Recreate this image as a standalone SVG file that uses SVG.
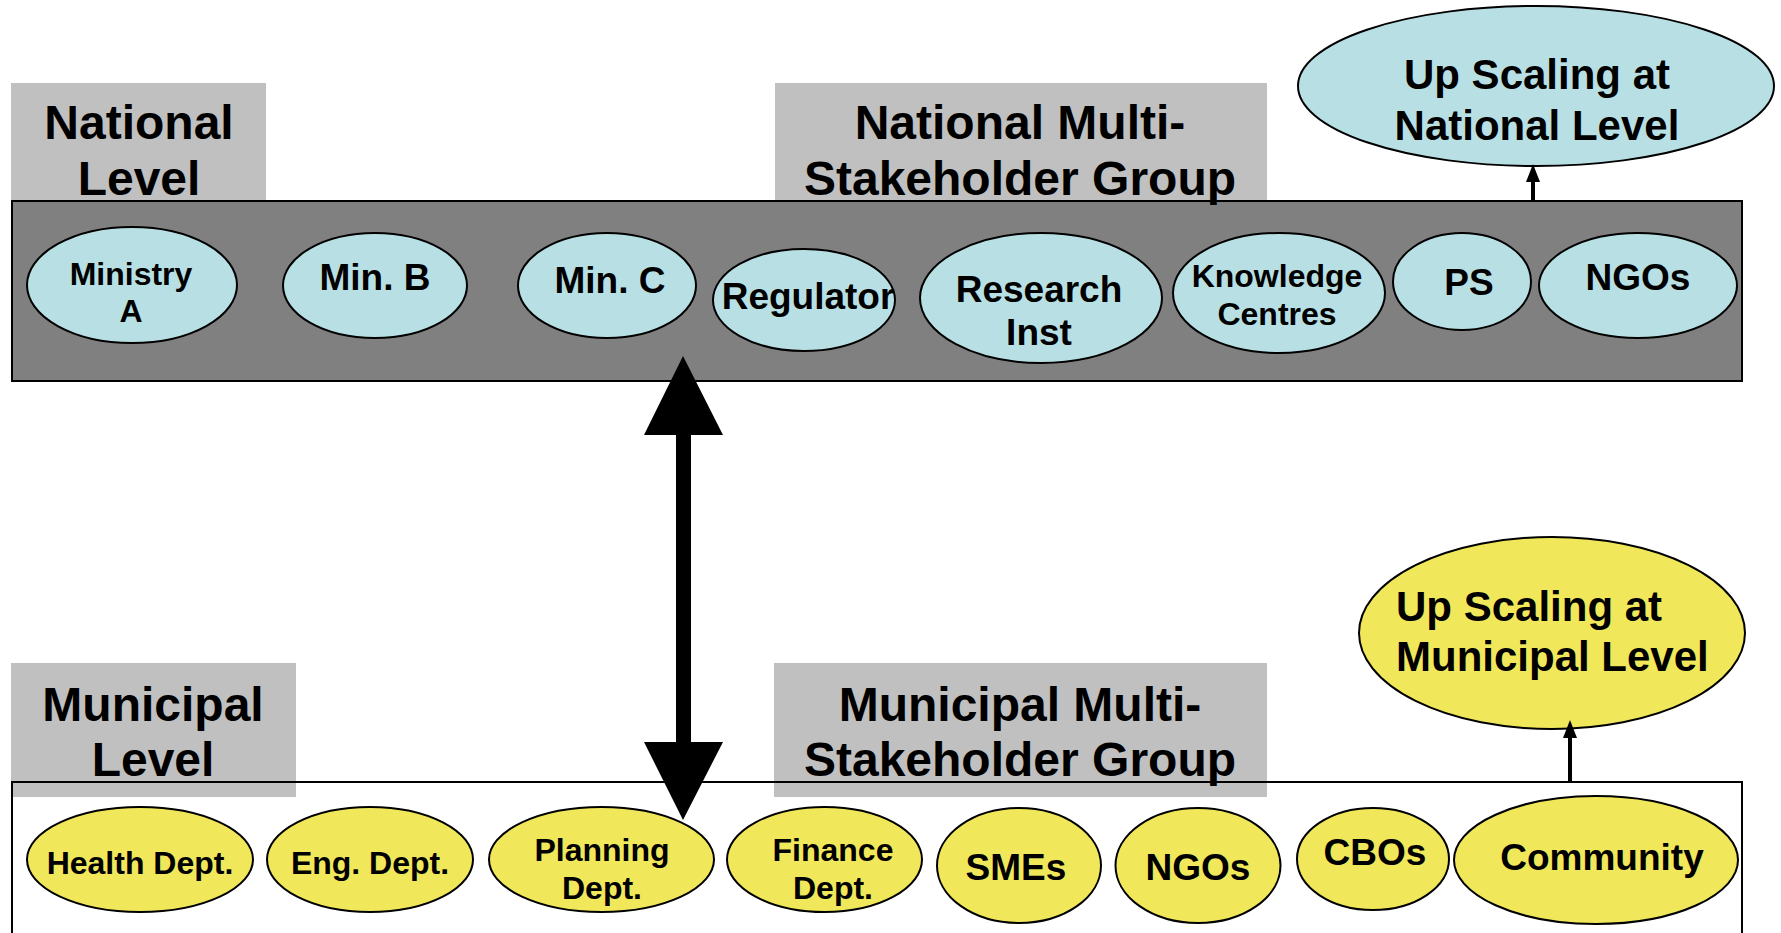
<svg xmlns="http://www.w3.org/2000/svg" width="1781" height="933" viewBox="0 0 1781 933">
<style>
  text { font-family: "Liberation Sans", Arial, sans-serif; font-weight: bold; fill: #000; text-anchor: middle; }
  .hd { font-size: 48px; }
  .up { font-size: 42px; }
  .lg { font-size: 37px; }
  .sm { font-size: 32px; }
  .tab { fill: #c0c0c0; stroke: none; }
  .blue { fill: #b8e0e4; stroke: #000; stroke-width: 2; }
  .yel { fill: #f0e85a; stroke: #000; stroke-width: 2; }
  .band { stroke: #000; stroke-width: 2; }
  .thin { stroke: #000; stroke-width: 4; fill: none; }
</style>
<defs>
  <marker id="ah" markerUnits="userSpaceOnUse" viewBox="0 0 18 14" refX="2" refY="7" markerWidth="18" markerHeight="14" orient="auto">
    <path d="M0,0 L18,7 L0,14 z" fill="#000"/>
  </marker>
</defs>
<rect width="1781" height="933" fill="#fff"/>

<!-- municipal label tabs (drawn under band outline) -->
<g id="municipal-level">
  <rect class="tab" x="11" y="663" width="285" height="134"/>
  <text class="hd" x="153" y="721">Municipal</text>
  <text class="hd" x="153" y="776">Level</text>
</g>
<g id="municipal-msg">
  <rect class="tab" x="774" y="663" width="493" height="134"/>
  <text class="hd" x="1020" y="721">Municipal Multi-</text>
  <text class="hd" x="1020" y="776">Stakeholder Group</text>
</g>

<!-- bands -->
<g id="national-band">
  <rect class="band" x="12" y="201" width="1730" height="180" fill="#808080"/>
</g>
<g id="municipal-band">
  <rect class="band" x="12" y="782" width="1730" height="200" fill="none"/>
</g>

<!-- national label tabs -->
<g id="national-level">
  <rect class="tab" x="11" y="83" width="255" height="117"/>
  <text class="hd" x="139" y="139">National</text>
  <text class="hd" x="139" y="195">Level</text>
</g>
<g id="national-msg">
  <rect class="tab" x="775" y="83" width="492" height="117"/>
  <text class="hd" x="1020" y="139">National Multi-</text>
  <text class="hd" x="1020" y="195">Stakeholder Group</text>
</g>

<!-- upscaling nodes -->
<g id="upscale-national">
  <ellipse class="blue" cx="1536" cy="86" rx="238" ry="80"/>
  <text class="up" x="1537" y="89">Up Scaling at</text>
  <text class="up" x="1537" y="140">National Level</text>
</g>
<g id="upscale-municipal">
  <ellipse class="yel" cx="1552" cy="633" rx="193" ry="96"/>
  <text class="up" x="1396" y="621" style="text-anchor:start">Up Scaling at</text>
  <text class="up" x="1396" y="671" style="text-anchor:start">Municipal Level</text>
</g>

<!-- national stakeholders -->
<g id="ministry-a">
  <ellipse class="blue" cx="132" cy="285" rx="105" ry="58"/>
  <text class="sm" x="131" y="285">Ministry</text>
  <text class="sm" x="131" y="322">A</text>
</g>
<g id="min-b">
  <ellipse class="blue" cx="375" cy="285.5" rx="92" ry="52.5"/>
  <text class="lg" x="375" y="290">Min. B</text>
</g>
<g id="min-c">
  <ellipse class="blue" cx="607" cy="285.5" rx="89" ry="52.5"/>
  <text class="lg" x="610" y="293">Min. C</text>
</g>
<g id="regulator">
  <ellipse class="blue" cx="804" cy="300" rx="91" ry="51"/>
  <text class="lg" x="808" y="309">Regulator</text>
</g>
<g id="research-inst">
  <ellipse class="blue" cx="1041" cy="298" rx="121" ry="65"/>
  <text class="lg" x="1039" y="302">Research</text>
  <text class="lg" x="1039" y="345">Inst</text>
</g>
<g id="knowledge-centres">
  <ellipse class="blue" cx="1279" cy="293" rx="106" ry="60"/>
  <text class="sm" x="1277" y="287">Knowledge</text>
  <text class="sm" x="1277" y="325">Centres</text>
</g>
<g id="ps">
  <ellipse class="blue" cx="1462" cy="281.5" rx="69" ry="48.5"/>
  <text class="lg" x="1469" y="295">PS</text>
</g>
<g id="ngos-national">
  <ellipse class="blue" cx="1638" cy="285.5" rx="99" ry="52.5"/>
  <text class="lg" x="1638" y="290">NGOs</text>
</g>

<!-- municipal stakeholders -->
<g id="health-dept">
  <ellipse class="yel" cx="140" cy="859.5" rx="113" ry="52.5"/>
  <text class="sm" x="140" y="874">Health Dept.</text>
</g>
<g id="eng-dept">
  <ellipse class="yel" cx="370" cy="859.5" rx="103" ry="52.5"/>
  <text class="sm" x="370" y="874">Eng. Dept.</text>
</g>
<g id="planning-dept">
  <ellipse class="yel" cx="601.5" cy="859.5" rx="112.5" ry="52.5"/>
  <text class="sm" x="602" y="861">Planning</text>
  <text class="sm" x="602" y="899">Dept.</text>
</g>
<g id="finance-dept">
  <ellipse class="yel" cx="824.5" cy="859.5" rx="97.5" ry="52.5"/>
  <text class="sm" x="833" y="861">Finance</text>
  <text class="sm" x="833" y="899">Dept.</text>
</g>
<g id="smes">
  <ellipse class="yel" cx="1019" cy="865.5" rx="82" ry="57.5"/>
  <text class="lg" x="1016" y="880">SMEs</text>
</g>
<g id="ngos-municipal">
  <ellipse class="yel" cx="1198" cy="865.5" rx="82.5" ry="57.5"/>
  <text class="lg" x="1198" y="880">NGOs</text>
</g>
<g id="cbos">
  <ellipse class="yel" cx="1373" cy="859" rx="76" ry="51"/>
  <text class="lg" x="1375" y="865">CBOs</text>
</g>
<g id="community">
  <ellipse class="yel" cx="1596" cy="860" rx="142" ry="64"/>
  <text class="lg" x="1602" y="870">Community</text>
</g>

<!-- connectors -->
<g id="connectors">
  <polygon points="683,356 723,435 691,435 691,742 723,742 683,820 644,742 676,742 676,435 644,435" fill="#000"/>
  <line class="thin" x1="1533" y1="201" x2="1533" y2="180" marker-end="url(#ah)"/>
  <line class="thin" x1="1570" y1="782" x2="1570" y2="736" marker-end="url(#ah)"/>
</g>
</svg>
